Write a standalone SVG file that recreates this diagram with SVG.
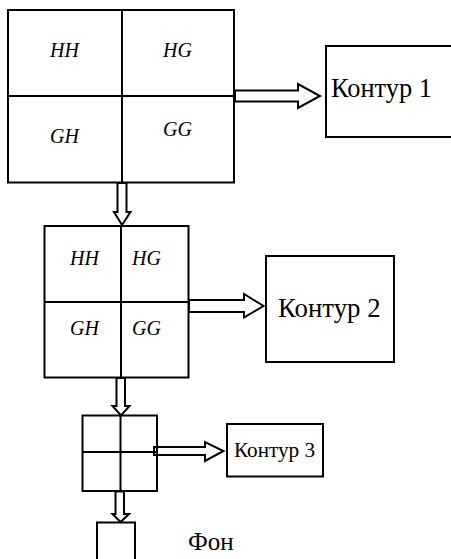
<svg xmlns="http://www.w3.org/2000/svg" width="451" height="559" viewBox="0 0 451 559">
<style>
.b{fill:none;stroke:#000;stroke-width:2}
.a{fill:#fff;stroke:#000;stroke-width:2;stroke-linejoin:miter}
text{font-family:'Liberation Serif','Times New Roman',serif;fill:#000}
.l{font-style:italic;font-size:20px}
</style>
<rect width="451" height="559" fill="#fff"/>
<g id="connectors">
<polygon class="a" points="235,90.5 298,90.5 298,84 320,96 298,108 298,101.5 235,101.5"/>
<polygon class="a" points="117.5,183 126.5,183 126.5,212 130.5,212 122,225 114,212 117.5,212"/>
<polygon class="a" points="189,300 244,300 244,294 263.5,306 244,317.5 244,312 189,312"/>
<polygon class="a" points="116.5,378 125,378 125,406 129.5,406 121,415.5 112.5,406 116.5,406"/>
<polygon class="a" points="154,447 205,447 205,442 223.5,451 205,461 205,455 154,455"/>
<polygon class="a" points="115.5,491.5 124,491.5 124,514 129,514 120.5,522 112.5,514 115.5,514"/>
</g>
<g id="matrix1">
<rect class="b" x="8" y="10" width="226" height="172.5"/>
<line class="b" x1="122" y1="10" x2="122" y2="182.5"/>
<line class="b" x1="8" y1="96" x2="234" y2="96"/>
<text class="l" x="50" y="57">HH</text>
<text class="l" x="163" y="57">HG</text>
<text class="l" x="50" y="143">GH</text>
<text class="l" x="163" y="136">GG</text>
</g>
<g id="kontur1">
<rect class="b" x="326" y="46" width="140" height="91"/>
<text x="331" y="97" font-size="26.4">Контур 1</text>
</g>
<g id="matrix2">
<rect class="b" x="44.5" y="226" width="144" height="151.5"/>
<line class="b" x1="121" y1="226" x2="121" y2="377.5"/>
<line class="b" x1="44.5" y1="302" x2="188.5" y2="302"/>
<text class="l" x="70" y="265">HH</text>
<text class="l" x="132" y="265">HG</text>
<text class="l" x="70" y="335">GH</text>
<text class="l" x="132" y="335">GG</text>
</g>
<g id="kontur2">
<rect class="b" x="266" y="256" width="128" height="106"/>
<text x="278" y="317" font-size="26.8">Контур 2</text>
</g>
<g id="matrix3">
<rect class="b" x="82.5" y="415.5" width="74.5" height="75.5"/>
<line class="b" x1="120.5" y1="415.5" x2="120.5" y2="491"/>
<line class="b" x1="82.5" y1="452" x2="157" y2="452"/>
</g>
<g id="kontur3">
<rect class="b" x="227" y="424" width="96" height="52.5"/>
<text x="234" y="457" font-size="21.2">Контур 3</text>
</g>
<g id="fon">
<rect class="b" x="97" y="522.5" width="38" height="50"/>
<text x="188" y="550" font-size="25">Фон</text>
</g>
</svg>
